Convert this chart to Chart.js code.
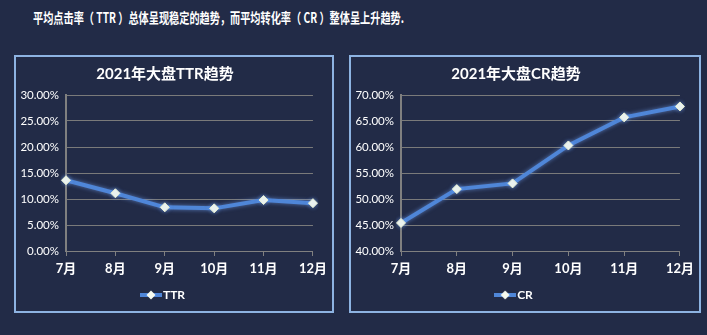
<!DOCTYPE html>
<html>
  <head>
    <style>
      body {
        margin: 0;
        width: 707px;
        height: 335px;
        background: #222b47;
        overflow: hidden;
        position: relative;
        font-family: "Noto Sans CJK SC", sans-serif;
      }
      .headline {
        position: absolute;
        left: 33px;
        top: 7px;
        color: #ffffff;
        font-size: 14px;
        font-weight: bold;
        line-height: 20px;
        white-space: pre;
        transform-origin: 0 0;
      }
      .panel {
        position: absolute;
        top: 55px;
        height: 254px;
        border: 2px solid #8db3e2;
      }
      #leftPanel { left: 14px; width: 316px; }
      #rightPanel { left: 349px; width: 348px; }
    </style>
    <script src="https://cdn.jsdelivr.net/npm/chart.js"></script>
  </head>
  <body>
    <div class="headline" id="headline">平均点击率（ TTR ）总体呈现稳定的趋势，而平均转化率（ CR ）整体呈上升趋势.</div>
    <div class="panel" id="leftPanel"><canvas id="ttrChart"></canvas></div>
    <div class="panel" id="rightPanel"><canvas id="crChart"></canvas></div>
    <script>
      // data
      var months = ['7月', '8月', '9月', '10月', '11月', '12月'];
      var ttrValues = [13.6, 11.1, 8.4, 8.2, 9.8, 9.2];
      var crValues = [45.4, 51.9, 53.0, 60.3, 65.7, 67.8];

      // squeeze headline to the width it has in the picture
      var head = document.getElementById('headline');
      head.style.transform = 'scaleX(' + (371 / head.scrollWidth) + ')';

      var lineColor = '#4f86d8';

      // legend symbol: short line with a diamond on it
      function legendSymbol() {
        var c = document.createElement('canvas');
        c.width = 22; c.height = 10;
        var g = c.getContext('2d');
        g.strokeStyle = lineColor;
        g.lineWidth = 4;
        g.beginPath(); g.moveTo(0, 5); g.lineTo(22, 5); g.stroke();
        g.fillStyle = '#f7faee';
        g.beginPath();
        g.moveTo(11, 0.5); g.lineTo(15.5, 5); g.lineTo(11, 9.5); g.lineTo(6.5, 5);
        g.closePath(); g.fill();
        return c;
      }

      var fontFamily = "Lato, 'Noto Sans CJK SC', sans-serif";
      Chart.defaults.color = '#ffffff';
      Chart.defaults.font.family = fontFamily;

      // soft glow under the line like the office chart
      var glow = {
        id: 'glow',
        beforeDatasetsDraw: function(chart) {
          chart.ctx.save();
          chart.ctx.shadowColor = 'rgba(120,170,255,0.6)';
          chart.ctx.shadowBlur = 4;
        },
        afterDatasetsDraw: function(chart) { chart.ctx.restore(); }
      };

      function makeChart(id, title, label, values, min, max) {
        var canvas = document.getElementById(id);
        return new Chart(canvas.getContext('2d'), {
          type: 'line',
          plugins: [glow],
          data: {
            labels: months,
            datasets: [{
              label: label,
              data: values,
              borderColor: lineColor,
              backgroundColor: '#f2f7e4',
              borderWidth: 4,
              pointStyle: 'rectRot',
              pointRadius: 4.5,
              pointBorderColor: '#e8efd0',
              pointBorderWidth: 1,
              pointBackgroundColor: '#f7faee',
              tension: 0
            }]
          },
          options: {
            responsive: false,
            animation: false,
            layout: { padding: { left: 0, right: 18, top: 4, bottom: 0 } },
            plugins: {
              title: {
                display: true,
                text: title,
                color: '#ffffff',
                font: { size: 15, weight: 'bold' },
                padding: { top: 4, bottom: 12 }
              },
              legend: {
                position: 'bottom',
                labels: {
                  color: '#ffffff',
                  font: { size: 12, weight: 'bold' },
                  usePointStyle: true,
                  pointStyle: legendSymbol(),
                  padding: 10,
                  boxHeight: 10
                }
              },
              tooltip: { enabled: false }
            },
            scales: {
              x: {
                offset: false,
                afterFit: function(scale) { scale.height = 28; },
                grid: {
                  drawOnChartArea: false,
                  color: '#808080',
                  tickLength: 5
                },
                border: { color: '#808080', width: 1 },
                ticks: {
                  color: '#ffffff',
                  font: { size: 13, weight: 'bold' },
                  maxRotation: 0,
                  padding: 5
                }
              },
              y: {
                min: min,
                max: max,
                afterFit: function(scale) { scale.width = 50; },
                grid: { color: '#7a7a7a', lineWidth: 1, tickLength: 0 },
                border: { color: '#808080', width: 2 },
                ticks: {
                  stepSize: 5,
                  color: '#ffffff',
                  font: { size: 11.5 },
                  padding: 7,
                  callback: function(v) { return v.toFixed(2) + '%'; }
                }
              }
            }
          }
        });
      }

      var c1 = document.getElementById('ttrChart');
      c1.width = 316; c1.height = 254;
      var c2 = document.getElementById('crChart');
      c2.width = 348; c2.height = 254;

      makeChart('ttrChart', '2021年大盘TTR趋势', 'TTR', ttrValues, 0, 30);
      makeChart('crChart', '2021年大盘CR趋势', 'CR', crValues, 40, 70);
    </script>
  </body>
</html>
